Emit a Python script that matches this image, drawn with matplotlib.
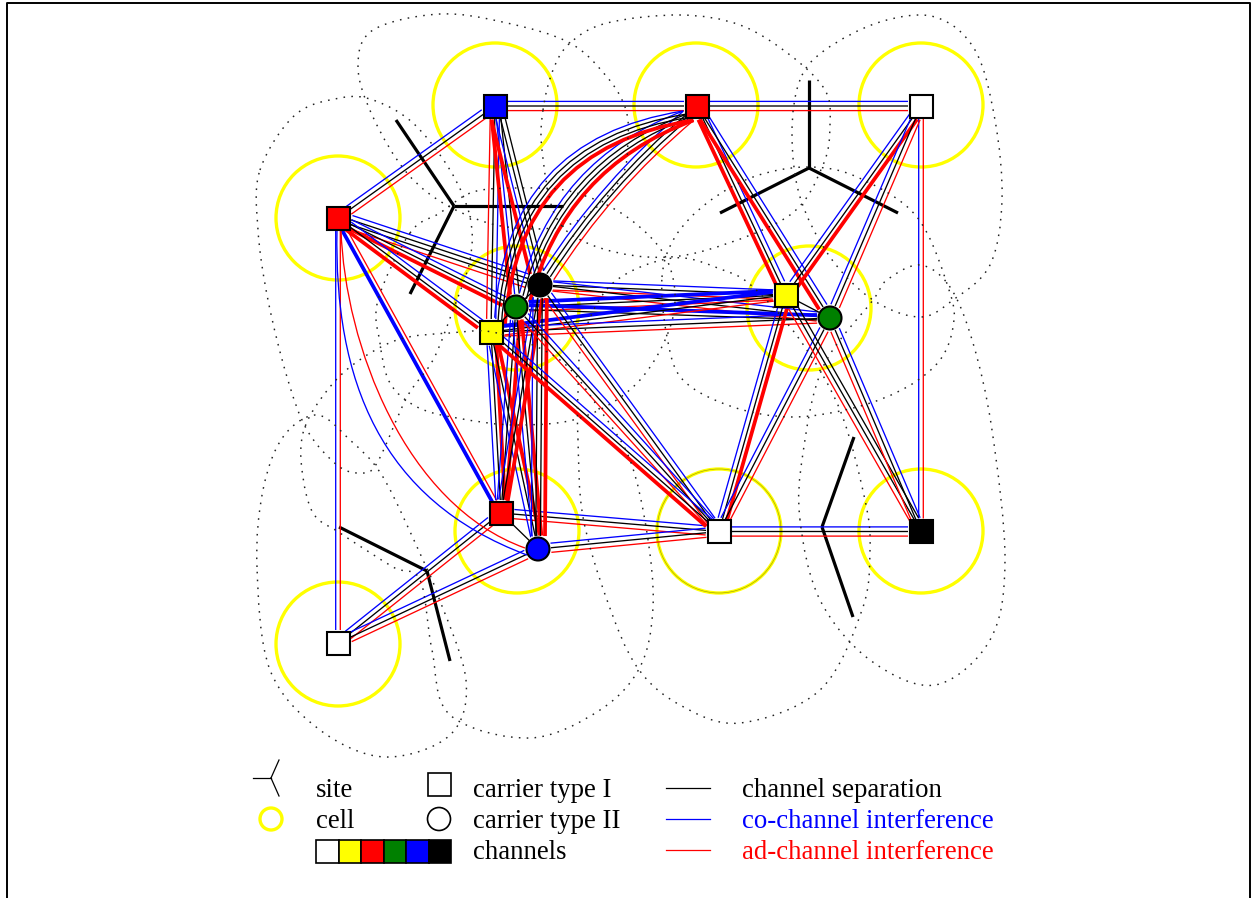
import numpy as np
import matplotlib.pyplot as plt
from matplotlib.path import Path
from matplotlib.patches import PathPatch, Circle, Rectangle

plt.rcParams['font.family'] = ['Liberation Serif', 'DejaVu Serif']

# carriers: name -> (x, y, shape, channel colour), in picture pixels
carriers = {
    'A': (338, 218, 's', 'red'), 'B': (495, 106, 's', 'blue'),
    'C': (697, 106, 's', 'red'), 'D': (921, 106, 's', 'white'),
    'Ey': (491, 332, 's', 'yellow'), 'Eg': (516, 307, 'o', 'green'),
    'Ek': (540, 285, 'o', 'black'), 'Fy': (786, 295, 's', 'yellow'),
    'Fg': (830, 318, 'o', 'green'), 'Gr': (501, 513, 's', 'red'),
    'Gb': (538, 549, 'o', 'blue'), 'H': (719, 531.5, 's', 'white'),
    'I': (921, 531.5, 's', 'black'), 'J': (338, 643, 's', 'white'),
}
cells = [(338, 218), (495, 105), (696, 105), (921, 105), (517, 308),
         (809, 308), (517, 531), (719, 531), (921, 531), (338, 644)]
double_cell = (719, 531)

# sites: centre and arm ends
sites = [
    ((454, 206), [(396, 120), (563, 206), (410, 294)]),
    ((809, 168), [(809, 80), (720, 213), (898, 213)]),
    ((427, 571), [(339, 527), (450, 661)]),
    ((822, 527), [(854, 437), (853, 617)]),
]

# edges: from, to, line kinds across the bundle, bend
# u blue, U thick blue, k black, r red, R thick red
edges = [
    ('A', 'B', 'ukr', 0), ('B', 'C', 'ukr', 0), ('C', 'D', 'ukr', 0),
    ('H', 'I', 'ukr', 0), ('Gr', 'H', 'ukr', 0), ('Gb', 'H', 'ukr', 0),
    ('J', 'Gr', 'ukr', 0), ('J', 'Gb', 'ukr', 0),
    ('J', 'A', 'ur', 0), ('I', 'D', 'ur', 0),
    ('A', 'Ek', 'ukkr', 0), ('A', 'Eg', 'ukR', 0), ('A', 'Ey', 'ukR', 0),
    ('A', 'Gr', 'rU', 0),
    ('B', 'Ey', 'ukr', 0), ('B', 'Eg', 'kuR', 0), ('B', 'Ek', 'kkuR', 0),
    ('C', 'Ek', 'rkku', -8), ('C', 'Eg', 'Rkku', -32), ('C', 'Ey', 'Rkku', -56),
    ('C', 'Fy', 'ukR', 0), ('C', 'Fg', 'ukR', 0),
    ('D', 'Fy', 'Rku', 0), ('D', 'Fg', 'rku', 0),
    ('Ek', 'Fy', 'ukr', 0), ('Ek', 'Fg', 'ukr', 0), ('Eg', 'Fy', 'Ukr', 0),
    ('Eg', 'Fg', 'Uk', 0), ('Ey', 'Fy', 'Ukr', 0), ('Ey', 'Fg', 'ukr', 0),
    ('Ey', 'Gr', 'Rku', 0), ('Ey', 'Gb', 'Rku', 0), ('Eg', 'Gr', 'Rku', 0),
    ('Eg', 'Gb', 'Rku', 0), ('Ek', 'Gr', 'Rku', 0), ('Ek', 'Gb', 'Rkku', 0),
    ('Ek', 'H', 'ukr', 0), ('Eg', 'H', 'ukr', 0), ('Ey', 'H', 'ukR', 0),
    ('Fy', 'H', 'Rku', 0), ('Fg', 'H', 'rku', 0),
    ('Fy', 'I', 'kkr', 0), ('Fg', 'I', 'ukr', 0),
]
local_links = [('Ey', 'Eg'), ('Eg', 'Ek'), ('Fy', 'Fg'), ('Gr', 'Gb')]

# the long quarter arcs from A to Gb: kind, four bezier points
long_arcs = [
    ('u', [(337, 230), (334, 380), (380, 500), (527, 555)]),
    ('r', [(341, 230), (345, 345), (405, 505), (525, 548)]),
]

# dotted coverage outlines, one per cell
outlines = [
    [(260, 170), (295, 115), (340, 98), (373, 100), (413, 123), (450, 170), (470, 217), (470, 260),
     (453, 310), (433, 360), (407, 397), (377, 463), (360, 473), (337, 465), (307, 430), (287, 377),
     (268, 300), (258, 230)],
    [(358, 67), (373, 30), (440, 14), (507, 23), (570, 43), (607, 77), (625, 107), (628, 137), (620, 180),
     (573, 223), (507, 227), (450, 207), (407, 173), (373, 117)],
    [(543, 110), (553, 70), (570, 43), (607, 23), (680, 15), (740, 25), (790, 55), (825, 90), (830, 125),
     (823, 165), (790, 215), (707, 250), (647, 257), (587, 243), (555, 215), (542, 150)],
    [(800, 80), (792, 133), (800, 197), (830, 257), (873, 300), (920, 317), (953, 300), (990, 265),
     (1002, 200), (995, 120), (975, 50), (935, 17), (880, 22), (825, 50)],
    [(410, 233), (440, 213), (473, 192), (520, 188), (573, 192), (627, 217), (667, 260), (673, 317),
     (640, 380), (583, 417), (517, 425), (457, 418), (417, 407), (390, 383), (380, 343), (378, 300)],
    [(662, 277), (675, 237), (707, 203), (753, 177), (807, 167), (857, 177), (917, 217), (950, 293),
     (953, 327), (940, 360), (907, 387), (857, 407), (793, 417), (733, 407), (683, 380), (667, 337)],
    [(578, 440), (578, 393), (583, 337), (613, 283), (673, 258), (723, 270), (753, 287), (800, 340),
     (840, 410), (865, 500), (870, 550), (862, 610), (820, 690), (740, 723), (680, 705), (637, 667),
     (607, 600), (583, 517)],
    [(800, 520), (803, 453), (823, 367), (873, 300), (887, 280), (920, 265), (950, 287), (973, 343),
     (992, 430), (1005, 560), (990, 640), (935, 685), (870, 660), (820, 600)],
    [(257, 567), (263, 490), (283, 437), (317, 415), (350, 440), (383, 477), (423, 560), (437, 593),
     (466, 680), (450, 735), (385, 757), (320, 730), (270, 670)],
    [(497, 333), (450, 333), (397, 340), (350, 367), (320, 400), (303, 433), (302, 470), (313, 513),
     (340, 533), (393, 567), (420, 580), (432, 650), (450, 715), (530, 738), (600, 710), (640, 667),
     (653, 607), (647, 533), (630, 460), (600, 410), (560, 360)],
]

legend_channels = ['white', 'yellow', 'red', 'green', 'blue', 'black']
legend_col1 = ['site', 'cell']
legend_col2 = ['carrier type I', 'carrier type II', 'channels']
legend_col3 = [('channel separation', 'black'), ('co-channel interference', 'blue'),
               ('ad-channel interference', 'red')]

STYLE = {'u': ('blue', 0.95), 'U': ('blue', 2.7), 'k': ('black', 0.95),
         'r': ('red', 0.95), 'R': ('red', 2.7)}
GAP = 4.6
TRIM = 13


def draw_bundle(ax, a, b, kinds, bend):
    pa = np.array(carriers[a][:2], float)
    pb = np.array(carriers[b][:2], float)
    d = pb - pa
    d = d / np.hypot(*d)
    n = np.array([d[1], -d[0]])
    mid = (len(kinds) - 1) / 2
    for i, kind in enumerate(kinds):
        off = (mid - i) * GAP * n
        p0 = pa + d * TRIM + off
        p1 = pb - d * TRIM + off
        color, lw = STYLE[kind]
        if bend:
            ctrl = (p0 + p1) / 2 + n * bend * 2
            path = Path([p0, ctrl, p1], [Path.MOVETO, Path.CURVE3, Path.CURVE3])
            ax.add_patch(PathPatch(path, fc='none', ec=color, lw=lw, zorder=3))
        else:
            ax.plot([p0[0], p1[0]], [p0[1], p1[1]], color=color, lw=lw, zorder=3,
                    solid_capstyle='butt', snap=False)


def closed_spline(points):
    # Catmull-Rom loop written as cubic beziers
    p = np.array(points, float)
    verts = [p[0]]
    codes = [Path.MOVETO]
    m = len(p)
    for i in range(m):
        p0, p1, p2, p3 = p[i - 1], p[i], p[(i + 1) % m], p[(i + 2) % m]
        verts += [p1 + (p2 - p0) / 6, p2 - (p3 - p1) / 6, p2]
        codes += [Path.CURVE4] * 3
    return Path(verts, codes)


fig = plt.figure(figsize=(12.52, 8.98), dpi=100)
ax = fig.add_axes([0, 0, 1, 1])
ax.set_xlim(0, 1252)
ax.set_ylim(898, 0)
ax.axis('off')

# page frame
ax.plot([6.5, 6.5, 1250, 1250], [898, 2.5, 2.5, 898], color='black', lw=1.4, zorder=1)

for c in cells:
    ax.add_patch(Circle(c, 62, fc='none', ec='yellow', lw=2.4, zorder=2))
ax.add_patch(Circle(double_cell, 62, fc='none', ec='#a8a800', lw=0.5, zorder=2))

for centre, arms in sites:
    for end in arms:
        ax.plot([centre[0], end[0]], [centre[1], end[1]], color='black', lw=2.3, zorder=2.5,
                solid_capstyle='butt')

for a, b, kinds, bend in edges:
    draw_bundle(ax, a, b, kinds, bend)
for kind, pts in long_arcs:
    path = Path(pts, [Path.MOVETO, Path.CURVE4, Path.CURVE4, Path.CURVE4])
    ax.add_patch(PathPatch(path, fc='none', ec=STYLE[kind][0], lw=STYLE[kind][1], zorder=3))
for a, b in local_links:
    ax.plot([carriers[a][0], carriers[b][0]], [carriers[a][1], carriers[b][1]],
            color='black', lw=0.95, zorder=3)

for x, y, shape, color in carriers.values():
    if shape == 's':
        ax.add_patch(Rectangle((x - 11.5, y - 11.5), 23, 23, fc=color, ec='black', lw=1.5, zorder=4))
    else:
        ax.add_patch(Circle((x, y), 11.5, fc=color, ec='black', lw=1.5, zorder=4))

for pts in outlines:
    ax.add_patch(PathPatch(closed_spline(pts), fc='none', ec='#222222', lw=1.05,
                           ls=(0, (1.1, 4.3)), zorder=5))

# legend
for end in [(253, 778), (279, 760), (279, 796)]:
    ax.plot([271, end[0]], [778, end[1]], color='black', lw=0.9)
ax.add_patch(Circle((271, 819), 11, fc='none', ec='yellow', lw=2.4))
ax.add_patch(Rectangle((428, 773), 23, 23, fc='white', ec='black', lw=1.2))
ax.add_patch(Circle((439, 819), 11.5, fc='white', ec='black', lw=1.2))
for i, color in enumerate(legend_channels):
    ax.add_patch(Rectangle((316 + i * 22.5, 840), 22.5, 23, fc=color, ec='black', lw=1.2))

rows = [797, 828, 859]
FS = 19.3
for label, y in zip(legend_col1, rows):
    ax.text(316, y, label, fontsize=FS, va='baseline')
for label, y in zip(legend_col2, rows):
    ax.text(473, y, label, fontsize=FS, va='baseline')
for (label, color), y in zip(legend_col3, rows):
    ax.plot([666, 710], [y - 9, y - 9], color=color, lw=0.9)
    ax.text(742, y, label, fontsize=FS, color=color, va='baseline')

fig.savefig('out.png', dpi=100)
